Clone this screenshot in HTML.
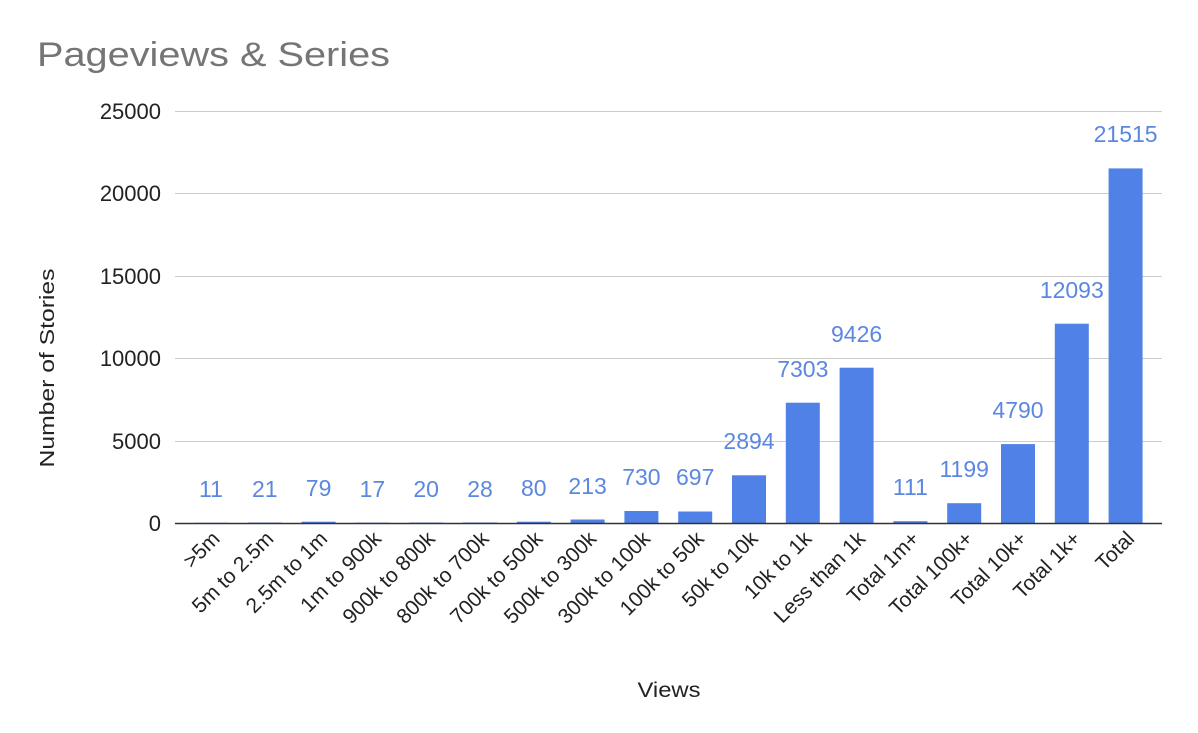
<!DOCTYPE html>
<html><head><meta charset="utf-8"><style>
body{margin:0;background:#fff;}
svg{display:block;font-family:"Liberation Sans",Arial,sans-serif;}
</style></head><body>
<svg width="1198" height="733" viewBox="0 0 1198 733">
<text x="37" y="66" font-size="34" fill="#757575" textLength="353" lengthAdjust="spacingAndGlyphs">Pageviews &amp; Series</text>
<g stroke="#cccccc" stroke-width="1">
<line x1="175" x2="1162" y1="111.5" y2="111.5"/>
<line x1="175" x2="1162" y1="193.5" y2="193.5"/>
<line x1="175" x2="1162" y1="276.5" y2="276.5"/>
<line x1="175" x2="1162" y1="358.5" y2="358.5"/>
<line x1="175" x2="1162" y1="441.5" y2="441.5"/>
</g>
<g font-size="22" fill="#222" text-anchor="end">
<text x="161" y="119">25000</text>
<text x="161" y="201">20000</text>
<text x="161" y="284">15000</text>
<text x="161" y="366">10000</text>
<text x="161" y="449">5000</text>
<text x="161" y="531">0</text>
</g>
<text transform="translate(54,368) rotate(-90)" font-size="20" fill="#222" text-anchor="middle" textLength="199" lengthAdjust="spacingAndGlyphs">Number of Stories</text>
<text x="669" y="697" font-size="21" fill="#222" text-anchor="middle" textLength="63" lengthAdjust="spacingAndGlyphs">Views</text>
<g fill="#4f81e6">
<rect x="194" y="522.8" width="34" height="0.7"/>
<rect x="247.8" y="522.6" width="34" height="0.9"/>
<rect x="301.6" y="521.7" width="34" height="1.8"/>
<rect x="355.4" y="522.7" width="34" height="0.8"/>
<rect x="409.2" y="522.6" width="34" height="0.9"/>
<rect x="463" y="522.5" width="34" height="1"/>
<rect x="516.8" y="521.7" width="34" height="1.8"/>
<rect x="570.6" y="519.5" width="34" height="4"/>
<rect x="624.4" y="511" width="34" height="12.5"/>
<rect x="678.2" y="511.5" width="34" height="12"/>
<rect x="732" y="475.3" width="34" height="48.2"/>
<rect x="785.8" y="402.7" width="34" height="120.8"/>
<rect x="839.6" y="367.7" width="34" height="155.8"/>
<rect x="893.4" y="521.2" width="34" height="2.3"/>
<rect x="947.2" y="503.2" width="34" height="20.3"/>
<rect x="1001" y="444.1" width="34" height="79.4"/>
<rect x="1054.8" y="323.7" width="34" height="199.8"/>
<rect x="1108.6" y="168.4" width="34" height="355.1"/>
</g>
<g font-size="23" fill="#5b87e0" text-anchor="middle">
<text x="211" y="497">11</text>
<text x="264.8" y="497">21</text>
<text x="318.6" y="496">79</text>
<text x="372.4" y="497">17</text>
<text x="426.2" y="497">20</text>
<text x="480" y="497">28</text>
<text x="533.8" y="496">80</text>
<text x="587.6" y="494">213</text>
<text x="641.4" y="485">730</text>
<text x="695.2" y="485">697</text>
<text x="749" y="449">2894</text>
<text x="802.8" y="377">7303</text>
<text x="856.6" y="342">9426</text>
<text x="910.4" y="495">111</text>
<text x="964.2" y="477">1199</text>
<text x="1018" y="418">4790</text>
<text x="1071.8" y="298">12093</text>
<text x="1125.6" y="142">21515</text>
</g>
<line x1="175" x2="1162" y1="523.5" y2="523.5" stroke="#333" stroke-width="1.5"/>
<g font-size="21" fill="#222" text-anchor="end">
<text transform="translate(221,540) rotate(-45)">&gt;5m</text>
<text transform="translate(274.8,540) rotate(-45)">5m to 2.5m</text>
<text transform="translate(328.6,540) rotate(-45)">2.5m to 1m</text>
<text transform="translate(382.4,540) rotate(-45)">1m to 900k</text>
<text transform="translate(436.2,540) rotate(-45)">900k to 800k</text>
<text transform="translate(490,540) rotate(-45)">800k to 700k</text>
<text transform="translate(543.8,540) rotate(-45)">700k to 500k</text>
<text transform="translate(597.6,540) rotate(-45)">500k to 300k</text>
<text transform="translate(651.4,540) rotate(-45)">300k to 100k</text>
<text transform="translate(705.2,540) rotate(-45)">100k to 50k</text>
<text transform="translate(759,540) rotate(-45)">50k to 10k</text>
<text transform="translate(812.8,540) rotate(-45)">10k to 1k</text>
<text transform="translate(866.6,540) rotate(-45)">Less than 1k</text>
<text transform="translate(920.4,540) rotate(-45)">Total 1m+</text>
<text transform="translate(974.2,540) rotate(-45)">Total 100k+</text>
<text transform="translate(1028,540) rotate(-45)">Total 10k+</text>
<text transform="translate(1081.8,540) rotate(-45)">Total 1k+</text>
<text transform="translate(1135.6,540) rotate(-45)">Total</text>
</g>
</svg>
</body></html>
